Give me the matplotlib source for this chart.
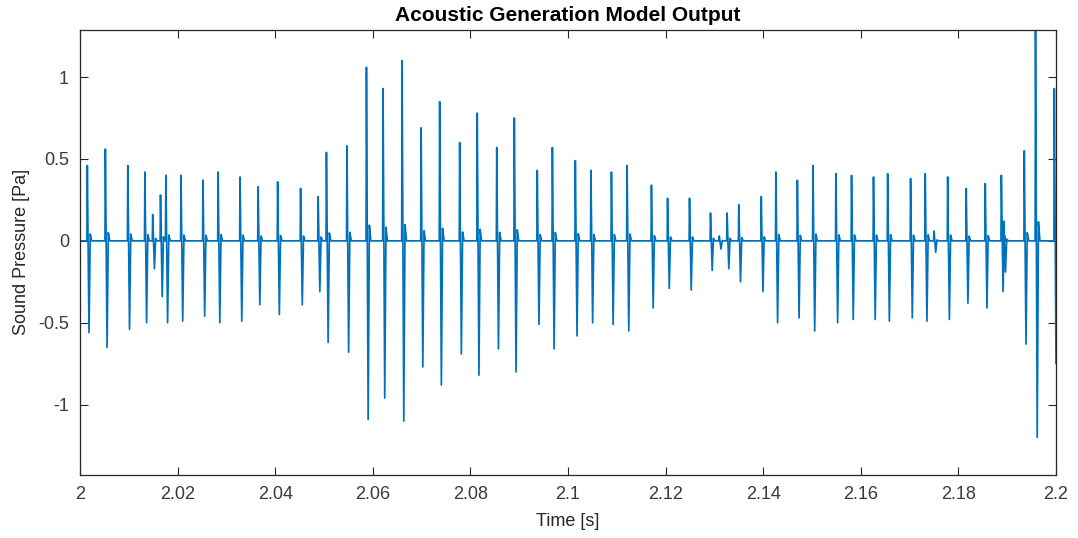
import numpy as np
import matplotlib
matplotlib.use("Agg")
import matplotlib.pyplot as plt

# spike times [s], positive peaks and negative peaks [Pa]
spike_t = [2.0015, 2.0052, 2.0098, 2.0133, 2.0149, 2.0165, 2.0176, 2.0207,
           2.0252, 2.0283, 2.0328, 2.0365, 2.0405, 2.0452, 2.0488, 2.0505,
           2.0547, 2.0587, 2.0621, 2.0660, 2.0699, 2.0737, 2.0778, 2.0814,
           2.0854, 2.0890, 2.0937, 2.0968, 2.1015, 2.1047, 2.1089, 2.1121,
           2.1171, 2.1204, 2.1249, 2.1292, 2.1310, 2.1326, 2.1350, 2.1396,
           2.1426, 2.1470, 2.1502, 2.1549, 2.1581, 2.1626, 2.1655, 2.1702,
           2.1732, 2.1750, 2.1778, 2.1816, 2.1855, 2.1888, 2.1893, 2.1935,
           2.1958, 2.19965]
spike_pos = [0.46, 0.56, 0.46, 0.42, 0.16, 0.28, 0.40, 0.40,
             0.37, 0.42, 0.39, 0.33, 0.36, 0.32, 0.27, 0.54,
             0.58, 1.06, 0.93, 1.10, 0.69, 0.85, 0.60, 0.78,
             0.57, 0.75, 0.43, 0.57, 0.49, 0.43, 0.42, 0.46,
             0.34, 0.26, 0.26, 0.17, 0.03, 0.17, 0.22, 0.27,
             0.42, 0.37, 0.46, 0.41, 0.40, 0.39, 0.41, 0.38,
             0.41, 0.06, 0.39, 0.32, 0.35, 0.40, 0.12, 0.55,
             1.29, 0.93]
spike_neg = [-0.56, -0.65, -0.54, -0.50, -0.17, -0.34, -0.50, -0.49,
             -0.46, -0.50, -0.49, -0.39, -0.45, -0.39, -0.31, -0.62,
             -0.68, -1.09, -0.96, -1.10, -0.77, -0.88, -0.69, -0.82,
             -0.66, -0.80, -0.51, -0.66, -0.58, -0.50, -0.51, -0.55,
             -0.41, -0.29, -0.30, -0.18, -0.05, -0.17, -0.25, -0.31,
             -0.50, -0.47, -0.55, -0.50, -0.48, -0.48, -0.49, -0.47,
             -0.49, -0.07, -0.48, -0.38, -0.41, -0.31, -0.19, -0.63,
             -1.20, -0.75]

# build the waveform: every pulse rises to its peak, swings negative,
# rings back slightly positive and settles on zero
t_pts = [2.0]
p_pts = [0.0]
for t, a, b in zip(spike_t, spike_pos, spike_neg):
    t_pts += [t - 0.00008, t, t + 0.00035, t + 0.0006, t + 0.0009]
    p_pts += [0.0, a, b, 0.09 * a, 0.0]
t_pts.append(2.2)
p_pts.append(0.0)
t_pts = np.array(t_pts)
p_pts = np.array(p_pts)

plt.rcParams['font.family'] = ['Liberation Sans', 'DejaVu Sans']

fig = plt.figure(figsize=(10.78, 5.38), dpi=100)
ax = fig.add_axes([0.0742, 0.117, 0.9054, 0.828])
ax.plot(t_pts, p_pts, color='#0072BD', lw=1.25)

ax.set_xlim(2.0, 2.2)
ax.set_ylim(-1.43, 1.29)
ax.set_xticks(np.arange(2.0, 2.2001, 0.02))
ax.set_xticklabels(['2', '2.02', '2.04', '2.06', '2.08', '2.1', '2.12',
                    '2.14', '2.16', '2.18', '2.2'])
ax.set_yticks([-1, -0.5, 0, 0.5, 1])
ax.set_yticklabels(['-1', '-0.5', '0', '0.5', '1'])

dark = '#262626'
ax.tick_params(direction='in', top=True, right=True, length=6, width=0.8,
               colors=dark, labelsize=13, pad=8)
ax.tick_params(labelcolor='#3a3a3a')
for s in ax.spines.values():
    s.set_color(dark)
    s.set_linewidth(0.9)

ax.set_xlabel('Time [s]', fontsize=13, color=dark, labelpad=7)
ax.set_ylabel('Sound Pressure [Pa]', fontsize=13, color=dark, labelpad=6)
ax.set_title('Acoustic Generation Model Output', fontsize=15,
             fontweight='bold', color='black', pad=6)

fig.savefig('out.png', dpi=100)
